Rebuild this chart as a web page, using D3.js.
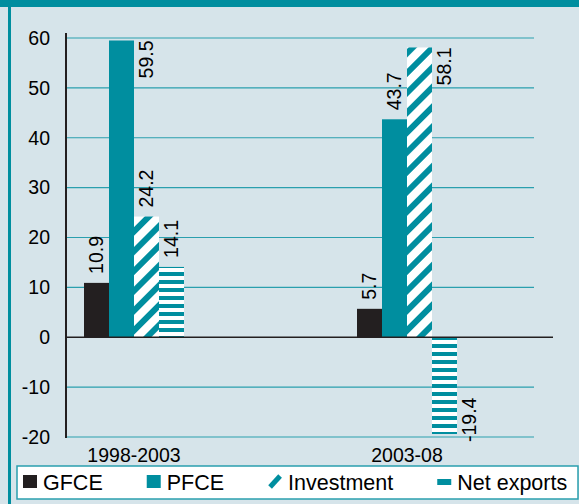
<!DOCTYPE html>
<html>
<head>
<meta charset="utf-8">
<script src="https://cdn.jsdelivr.net/npm/d3@7"></script>
<style>
    html, body { margin: 0; padding: 0; background: #d6e4ea; }
    svg { display: block; font-family: "Liberation Sans", Arial, sans-serif; }
</style>
</head>
<body>
<div id="chart"></div>
<script>
const periods = ["1998-2003", "2003-08"];
const series  = ["GFCE", "PFCE", "Investment", "Net exports"];
const values  = [
    [10.9, 59.5, 24.2, 14.1],   // 1998-2003
    [5.7, 43.7, 58.1, -19.4]    // 2003-08
];
const yTicks = [60, 50, 40, 30, 20, 10, 0, -10, -20];

const TEAL = "#008e9f";
const GRID = "#2a9fae";
const BLACK = "#231f20";
const BG = "#d6e4ea";

const W = 579, H = 504;
const plot = { left: 66, top: 38, bottom: 437, gridRight: 534, zeroRight: 553 };

const svg = d3.select("#chart").append("svg")
    .attr("width", W)
    .attr("height", H);

// patterns
const defs = svg.append("defs");
const diag = defs.append("pattern")
    .attr("id", "diag")
    .attr("patternUnits", "userSpaceOnUse")
    .attr("width", 14).attr("height", 14)
    .attr("patternTransform", "rotate(45)");
diag.append("rect").attr("width", 14).attr("height", 14).attr("fill", "#fff");
diag.append("rect").attr("width", 6).attr("height", 14).attr("fill", TEAL);

const horiz = defs.append("pattern")
    .attr("id", "horiz")
    .attr("patternUnits", "userSpaceOnUse")
    .attr("width", 8).attr("height", 8);
horiz.append("rect").attr("width", 8).attr("height", 8).attr("fill", "#fff");
horiz.append("rect").attr("width", 8).attr("height", 4).attr("fill", TEAL);

const fills = { "GFCE": BLACK, "PFCE": TEAL, "Investment": "url(#diag)", "Net exports": "url(#horiz)" };

// frame
svg.append("rect").attr("width", W).attr("height", H).attr("fill", BG);
svg.append("rect").attr("x", 0).attr("y", 0).attr("width", W).attr("height", 7).attr("fill", TEAL);
svg.append("rect").attr("x", 8).attr("y", 7).attr("width", 3).attr("height", H - 7).attr("fill", TEAL);

// scales
const y = d3.scaleLinear().domain([-20, 60]).range([plot.bottom, plot.top]);
const x0 = d3.scaleBand().domain(periods).range([84, 457]).paddingInner(173 / 273);
const x1 = d3.scaleBand().domain(series).range([0, x0.bandwidth()]);

// gridlines
svg.append("g").selectAll("line")
    .data(yTicks.filter(d => d !== 0))
    .join("line")
    .attr("x1", plot.left).attr("x2", plot.gridRight)
    .attr("y1", d => y(d)).attr("y2", d => y(d))
    .attr("stroke", GRID).attr("stroke-width", 1.2);

// tick labels
svg.append("g").selectAll("text")
    .data(yTicks)
    .join("text")
    .attr("x", 50)
    .attr("y", d => y(d))
    .attr("dy", "0.35em")
    .attr("text-anchor", "end")
    .style("font-size", "19.5px")
    .text(d => d);

// bars
const groups = svg.append("g").selectAll("g")
    .data(periods)
    .join("g")
    .attr("transform", d => `translate(${x0(d)},0)`);

groups.selectAll("rect")
    .data((p, i) => series.map((s, j) => ({ s, v: values[i][j] })))
    .join("rect")
    .attr("x", d => x1(d.s))
    .attr("width", x1.bandwidth())
    .attr("y", d => y(Math.max(0, d.v)))
    .attr("height", d => Math.abs(y(d.v) - y(0)))
    .attr("fill", d => fills[d.s]);

// value labels (rotated); if no room outside the end, put beside the bar
const LABEL_FS = 19.5, GAP = 9;
groups.selectAll("text")
    .data((p, i) => series.map((s, j) => ({ s, v: values[i][j] })))
    .join("text")
    .style("font-size", LABEL_FS + "px")
    .attr("dy", "0.35em")
    .text(d => d.v)
    .each(function (d) {
        const len = this.getComputedTextLength();
        const cx = x1(d.s) + x1.bandwidth() / 2;
        const yv = y(d.v);
        const t = d3.select(this);
        if (d.v >= 0) {
            if (yv - GAP - len > plot.top - 5) {
                t.attr("text-anchor", "start").attr("transform", `translate(${cx},${yv - GAP}) rotate(-90)`);
            } else {
                t.attr("text-anchor", "end").attr("transform", `translate(${cx + x1.bandwidth()},${yv}) rotate(-90)`);
            }
        } else {
            if (yv + GAP + len < plot.bottom) {
                t.attr("text-anchor", "end").attr("transform", `translate(${cx},${yv + GAP}) rotate(-90)`);
            } else {
                t.attr("text-anchor", "start").attr("transform", `translate(${cx + x1.bandwidth()},${yv + 8}) rotate(-90)`);
            }
        }
    });

// axes
svg.append("line")
    .attr("x1", plot.left).attr("x2", plot.zeroRight)
    .attr("y1", y(0)).attr("y2", y(0))
    .attr("stroke", BLACK).attr("stroke-width", 1.5);
svg.append("line")
    .attr("x1", plot.left).attr("x2", plot.left)
    .attr("y1", plot.top - 5).attr("y2", plot.bottom + 1)
    .attr("stroke", BLACK).attr("stroke-width", 2);

// category labels
svg.append("g").selectAll("text")
    .data(periods)
    .join("text")
    .attr("x", d => x0(d) + x0.bandwidth() / 2)
    .attr("y", 455)
    .attr("dy", "0.35em")
    .attr("text-anchor", "middle")
    .style("font-size", "19.5px")
    .text(d => d);

// legend
svg.append("rect")
    .attr("x", 17).attr("y", 466)
    .attr("width", 561).attr("height", 33)
    .attr("fill", "#fff")
    .attr("stroke", GRID).attr("stroke-width", 1.5);

// legend swatches: solid squares, a single slash, a single dash
const drawSwatch = function (g, s, sx, sy) {
    if (s === "Investment") {
        g.append("line")
            .attr("x1", sx + 2).attr("y1", sy + 12)
            .attr("x2", sx + 12).attr("y2", sy + 1)
            .attr("stroke", TEAL).attr("stroke-width", 5);
    } else if (s === "Net exports") {
        g.append("rect")
            .attr("x", sx).attr("y", sy + 4)
            .attr("width", 14).attr("height", 6)
            .attr("fill", TEAL);
    } else {
        g.append("rect")
            .attr("x", sx).attr("y", sy)
            .attr("width", 14).attr("height", 13)
            .attr("fill", fills[s]);
    }
};

let lx = 23;
series.forEach(s => {
    drawSwatch(svg, s, lx, 475);
    const t = svg.append("text")
        .attr("x", lx + 20).attr("y", 482)
        .attr("dy", "0.35em")
        .style("font-size", "21.5px")
        .text(s);
    lx += 20 + t.node().getComputedTextLength() + 44;
});
</script>
</body>
</html>
